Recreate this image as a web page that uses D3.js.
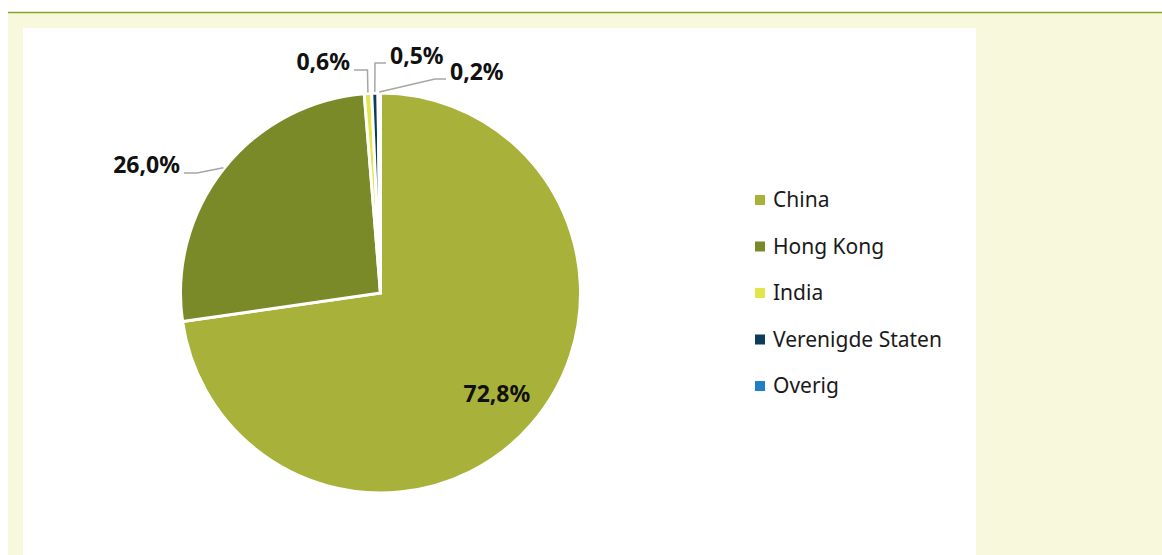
<!DOCTYPE html>
<html>
<head>
<meta charset="utf-8">
<script src="https://cdn.jsdelivr.net/npm/d3@7"></script>
<style>
  body { margin: 0; background: #fff; }
  svg { display: block; font-family: "Noto Sans", sans-serif; }
</style>
</head>
<body>
<div id="chart"></div>
<script>
// data
let countries = ["China", "Hong Kong", "India", "Verenigde Staten", "Overig"];
let shares = [72.8, 26.0, 0.6, 0.5, 0.2];
let labels = ["72,8%", "26,0%", "0,6%", "0,5%", "0,2%"];
let colors = ["#a8b23a", "#7b8a28", "#e2e64b", "#0d3b5b", "#1f7fc2"];

// placement of the outside labels, relative to the pie centre (elbow of leader + text anchor)
let labelLayout = [
    null,
    {ex: -183.5, ey: -120, tx: -200.5, ty: -128, anchor: "end"},
    {ex: -13, ey: -223, tx: -30.5, ty: -231, anchor: "end"},
    {ex: -5.5, ey: -230, tx: 9.5, ty: -237, anchor: "start"},
    {ex: 54.5, ey: -214, tx: 69.5, ty: -221, anchor: "start"}
];

const width = 1162, height = 555;
const cx = 380.5, cy = 293, radius = 200;

let svg = d3.select("#chart").append("svg")
    .attr("width", width)
    .attr("height", height);

// frame
svg.append("rect").attr("x", 8).attr("y", 12).attr("width", width - 8).attr("height", height - 12)
    .attr("fill", "#f7f8dc");
svg.append("line").attr("x1", 8).attr("x2", width).attr("y1", 12.5).attr("y2", 12.5)
    .attr("stroke", "#8ca226").attr("stroke-width", 1.5);
svg.append("rect").attr("x", 23).attr("y", 28).attr("width", 953).attr("height", height - 28)
    .attr("fill", "#fff");

let data = countries.map((c, i) => ({name: c, value: shares[i], label: labels[i], color: colors[i], layout: labelLayout[i]}));

let pie = d3.pie().sort(null).value(d => d.value);
let arcs = pie(data);

let arc = d3.arc().innerRadius(0).outerRadius(radius);
let labelArc = d3.arc().innerRadius(radius * 0.77).outerRadius(radius * 0.77);
let edgeArc = d3.arc().innerRadius(radius + 1).outerRadius(radius + 1);

let g = svg.append("g").attr("transform", "translate(" + cx + "," + cy + ")");

g.selectAll("path.slice")
    .data(arcs)
    .enter().append("path")
    .attr("class", "slice")
    .attr("d", arc)
    .attr("fill", d => d.data.color)
    .attr("stroke", "#fff")
    .attr("stroke-width", 3)
    .attr("stroke-linejoin", "miter");

// inside label (China)
g.append("text")
    .attr("x", labelArc.centroid(arcs[0])[0])
    .attr("y", labelArc.centroid(arcs[0])[1])
    .attr("text-anchor", "middle")
    .attr("dy", "0.35em")
    .attr("font-size", 23)
    .attr("font-weight", "bold")
    .attr("fill", "#111")
    .text(arcs[0].data.label);

// outside labels with leader lines
let outside = arcs.filter(d => d.data.layout);

g.selectAll("polyline.leader")
    .data(outside)
    .enter().append("polyline")
    .attr("class", "leader")
    .attr("points", d => {
        let p = edgeArc.centroid(d);
        let l = d.data.layout;
        return [p, [l.ex, l.ey], [l.tx + (l.anchor === "end" ? 4 : -4), l.ey]].map(q => q.join(",")).join(" ");
    })
    .attr("fill", "none")
    .attr("stroke", "#a6a6a6")
    .attr("stroke-width", 1.5);

g.selectAll("text.outlabel")
    .data(outside)
    .enter().append("text")
    .attr("class", "outlabel")
    .attr("x", d => d.data.layout.tx)
    .attr("y", d => d.data.layout.ty)
    .attr("dy", "0.35em")
    .attr("text-anchor", d => d.data.layout.anchor)
    .attr("font-size", 23)
    .attr("font-weight", "bold")
    .attr("fill", "#111")
    .text(d => d.data.label);

// legend
let legendY = d3.scalePoint().domain(countries).range([200, 386]);

let legend = svg.selectAll("g.legend")
    .data(data)
    .enter().append("g")
    .attr("class", "legend")
    .attr("transform", d => "translate(755," + legendY(d.name) + ")");

legend.append("rect")
    .attr("x", 0).attr("y", -5)
    .attr("width", 10).attr("height", 10)
    .attr("fill", d => d.color);

legend.append("text")
    .attr("x", 18)
    .attr("dy", "0.35em")
    .attr("font-size", 21)
    .attr("fill", "#1a1a1a")
    .text(d => d.name);
</script>
</body>
</html>
